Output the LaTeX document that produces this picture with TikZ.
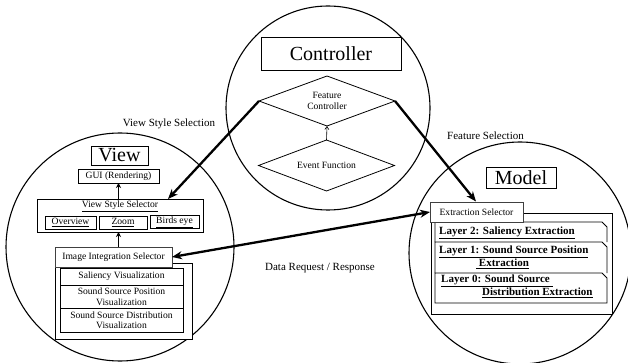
\documentclass[tikz,border=0pt]{standalone}
\usepackage{fontspec}
\setmainfont{Liberation Serif}
\usetikzlibrary{shapes.geometric,arrows.meta,calc}
\begin{document}
\begin{tikzpicture}[x=1pt,y=-1pt,
  circ/.style={draw, circle, line width=1.1pt, inner sep=0pt, outer sep=0pt},
  box/.style={draw, line width=0.8pt, fill=white, inner sep=0pt, outer sep=0pt, align=center},
  titlefont/.style={font=\fontsize{20}{22}\selectfont},
  lbl/.style={font=\fontsize{11}{13}\selectfont, inner sep=0pt},
  small/.style={font=\fontsize{9.6}{10.5}\selectfont},
  lay/.style={font=\fontsize{11}{13}\selectfont\bfseries, inner sep=0pt, anchor=west},
  dia/.style={draw, diamond, aspect=2.72, line width=0.8pt, inner sep=0pt, outer sep=0pt, align=center, font=\fontsize{9.6}{11}\selectfont},
  thickarrow/.style={line width=2.3pt, -{Stealth[length=10pt,width=8pt]}},
  biarrow/.style={line width=2.3pt, {Stealth[length=10pt,width=8pt]}-{Stealth[length=10pt,width=8pt]}},
  smallarrow/.style={line width=0.9pt, -{Stealth[length=5pt,width=5pt]}},
  tinyarrow/.style={line width=0.6pt, -{Straight Barb[length=3pt,width=4pt]}},
  tabrow/.style={line width=0.8pt}
]
\useasboundingbox (0,0) rectangle (628,363);

% circles
\node[circ, minimum size=204pt] (cc) at (328,108) {};
\node[circ, minimum size=228pt] (vc) at (120,247) {};
\node[circ, minimum size=222pt] (mc) at (520,253) {};

% controller
\node[box, titlefont, minimum width=140pt, minimum height=33pt] (ctrl) at (331,53.5) {Controller};
\node[dia, minimum width=136pt, minimum height=50pt] (fc) at (327,101) {Feature\\Controller};
\node[dia, minimum width=136pt, minimum height=51pt] (ef) at (326.5,165.5) {Event Function};
\draw[tinyarrow] (ef.north) -- (fc.south);

% view
\node[box, titlefont, minimum width=57pt, minimum height=19pt] (view) at (119.5,155.5) {View};
\node[box, small, minimum width=81pt, minimum height=14pt] (gui) at (118.5,176) {GUI (Rendering)};
\node[box, minimum width=166pt, minimum height=33pt] (vss) at (120,215.5) {};
\node[small, inner sep=0pt] (vsst) at (120,206) {\underline{View Style Selector}};
\node[box, small, minimum width=51pt, minimum height=13pt] (ov) at (70.5,222.5) {\underline{Overview}};
\node[box, small, minimum width=48pt, minimum height=13pt] (zm) at (123,222.5) {\underline{Zoom}};
\node[box, small, minimum width=49pt, minimum height=13pt] (be) at (174.5,222) {\underline{Birds eye}};

\node[box, minimum width=137pt, minimum height=76pt] (vout) at (123.5,301) {};
\node[box, small, minimum width=123pt, minimum height=17pt] (r1) at (121.5,276.5) {Saliency Visualization};
\node[box, small, minimum width=123pt, minimum height=23pt] (r2) at (121.5,296.5) {Sound Source Position\\Visualization};
\node[box, small, minimum width=123pt, minimum height=24pt] (r3) at (121.5,320) {Sound Source Distribution\\Visualization};
\node[box, small, draw=black!75, minimum width=117pt, minimum height=20pt] (iis) at (113.5,257) {Image Integration Selector};

\draw[smallarrow] (gui.south |- vss.north) -- (gui.south);
\draw[smallarrow] (gui.south |- iis.north) -- (gui.south |- vss.south);

% model
\node[box, titlefont, minimum width=70pt, minimum height=21pt] (model) at (521,177.5) {Model};
\node[box, minimum width=181pt, minimum height=101pt] (mout) at (521.5,263.5) {};
\draw[tabrow] (435,242) -- (435,222) -- (602,222) -- (607,227) -- (607,242);
\draw[tabrow] (435,273) -- (435,242) -- (602,242) -- (607,247) -- (607,273);
\draw[tabrow] (435,303) -- (435,273) -- (602,273) -- (607,278) -- (607,303) -- cycle;
\node[box, small, draw=black!75, minimum width=93pt, minimum height=20pt] (es) at (476.5,212) {Extraction Selector};

\node[lay] (l2) at (439,233) {\underline{Layer 2: Saliency Extraction}};
\node[lay] (l1a) at (439,252) {\underline{Layer 1: Sound Source Position}};
\node[lay] (l1b) at (476,264) {\underline{\ Extraction}};
\node[lay] (l0a) at (441,281) {\underline{Layer 0: Sound Source\ }};
\node[lay] (l0b) at (482,293) {\underline{Distribution Extraction}};

% connectors
\coordinate (vssin) at (168,199);
\coordinate (esin) at (476,201.5);
\draw[thickarrow] (fc.west) -- (vssin);
\draw[thickarrow] (fc.east) -- (esin);
\draw[biarrow] (iis.east) -- (es.west);

% labels
\node[lbl] (lvs) at (169,124) {View Style Selection};
\node[lbl] (lfs) at (485.5,136) {Feature Selection};
\node[lbl] (ldr) at (320,268) {Data Request / Response};
\end{tikzpicture}
\end{document}
